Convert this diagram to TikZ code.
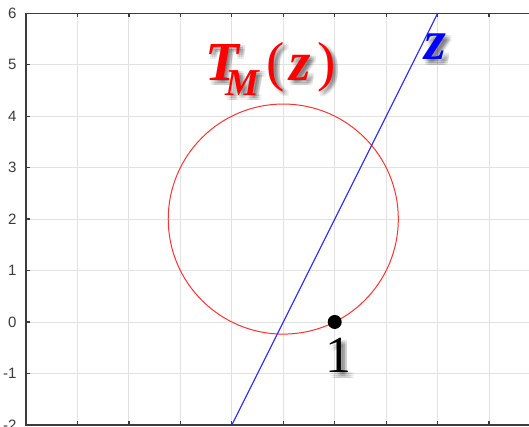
\documentclass[tikz,border=0pt]{standalone}
\usepackage{fontspec}
\newfontfamily\timesfont{Liberation Serif}
\newfontfamily\axisfont{Liberation Sans}
\definecolor{gridcol}{RGB}{226,226,226}
\definecolor{axiscol}{RGB}{60,60,60}
\definecolor{circcol}{RGB}{255,50,50}
\definecolor{linecol}{RGB}{40,40,255}
\tikzset{
  gridline/.style={draw=gridcol, line width=0.9pt},
  axisline/.style={draw=axiscol, line width=1.3pt},
  ticklabel/.style={font=\axisfont\fontsize{15}{15}\selectfont, text=axiscol, inner sep=0pt, anchor=east},
  bigtext/.style={inner sep=0pt, anchor=base west},
  shadowcopy/.style={text=black, opacity=0.07},
  dotnode/.style={circle, fill=black, inner sep=0pt, minimum size=14pt}
}
\newcommand\shtext[4]{%
  \foreach \dx in {1.5,3.5,5.5}{
    \foreach \dy in {1.5,3.5,5.5}{
      \node[bigtext, shadowcopy] (#1-sh-\dx-\dy) at ([xshift=\dx pt, yshift=-\dy pt]#2) {#4};
    }
  }
  \node[bigtext, #3] (#1) at (#2) {#4};
}
\begin{document}
\begin{tikzpicture}[x=51.45pt, y=51.45pt]
\useasboundingbox (-5.506,-2.041) rectangle (4.776,6.258);
\fill[white] (-5.506,-2.041) rectangle (4.776,6.258);
% grid
\foreach \i in {-4,...,4} { \draw[gridline] (\i,-2) -- (\i,6); }
\foreach \j in {-1,...,5} { \draw[gridline] (-5,\j) -- (4.776,\j); }
% ticks
\foreach \i in {-4,...,4} {
  \draw[axisline] (\i,6) -- (\i,5.92);
  \draw[axisline] (\i,-2) -- (\i,-1.92);
}
\foreach \j in {-1,...,5} { \draw[axisline] (-5,\j) -- (-4.92,\j); }
% axes
\draw[axisline] (4.776,6) -- (-5,6) -- (-5,-2) -- (4.776,-2);
% tick labels
\foreach \j in {-2,...,6} { \node[ticklabel] (yl\j) at (-5.18,\j) {\j}; }
% curves
\draw[circcol, line width=1pt] (0,2) circle ({sqrt(5)});
\coordinate (lineA) at (-1,-2);
\coordinate (lineB) at (3,6);
\draw[linecol, line width=1.1pt] (lineA) -- (lineB);
% point
\node[dotnode] (one) at (1,0) {};
% labels
\coordinate (tmpos) at (-1.52,4.70);
\shtext{tm}{tmpos}{text=red}{\timesfont\fontsize{55}{60}\selectfont\bfseries\itshape T\kern-13pt\raisebox{-15pt}{\fontsize{38}{40}\selectfont M}\kern7pt{\mdseries\upshape(}\kern5pt z\kern6pt{\mdseries\upshape)}}
\coordinate (zpos) at (2.75,5.1);
\shtext{zl}{zpos}{text=blue}{\timesfont\fontsize{56}{60}\selectfont\bfseries\itshape z}
\coordinate (onepos) at (0.82,-0.99);
\shtext{onel}{onepos}{text=black}{\timesfont\fontsize{52}{60}\selectfont 1}
\end{tikzpicture}
\end{document}
